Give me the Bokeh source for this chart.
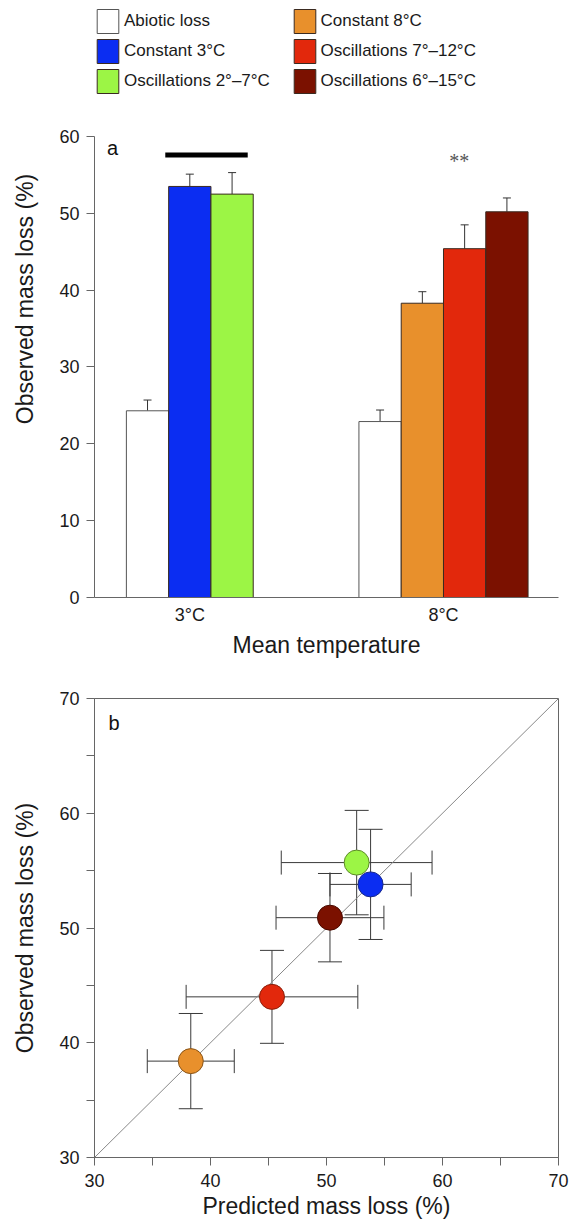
from bokeh.plotting import figure
from bokeh.layouts import column
from bokeh.models import (Range1d, FixedTicker, SingleIntervalTicker, Whisker, TeeHead,
                          ColumnDataSource, Legend, LegendItem, Label)
from bokeh.embed import file_html
from bokeh.resources import INLINE

FONT = "Liberation Sans"

# ---------------- data ----------------
temperatures = ["3°C", "8°C"]
series_names = ["Abiotic loss", "Constant 3°C", "Oscillations 2°–7°C",
                "Constant 8°C", "Oscillations 7°–12°C", "Oscillations 6°–15°C"]
series_fill = ["#FFFFFF", "#0B2DF2", "#9CF545", "#E8902C", "#E2280C", "#7B1100"]
series_edge = ["#666666", "#1A2A8A", "#5E8A2A", "#8A5518", "#8A1E0A", "#4A0A00"]

# panel a: observed mass loss (%) per mean temperature
group_series = [[0, 1, 2], [0, 3, 4, 5]]
mass_loss_3C = [24.3, 53.5, 52.5]
se_3C = [1.4, 1.6, 2.8]
mass_loss_8C = [22.9, 38.3, 45.4, 50.2]
se_8C = [1.5, 1.5, 3.1, 1.8]
significance = ["", "**"]
sig_bar_level = 57.6

# panel b: predicted vs observed (series index, in drawing order)
b_series = [2, 1, 5, 4, 3]
predicted = [52.6, 53.8, 50.3, 45.3, 38.3]
predicted_err = [6.5, 3.5, 4.65, 7.4, 3.75]
observed = [55.7, 53.8, 50.9, 44.0, 38.4]
observed_err = [4.55, 4.8, 3.85, 4.05, 4.15]

# ---------------- panel a ----------------
group_centers = [3, 9]
bar_w = 1.0

pa = figure(width=576, height=660, x_range=Range1d(0.746, 11.72), y_range=Range1d(0, 77.7),
            output_backend="svg", toolbar_location=None,
            min_border_left=94, min_border_right=13, min_border_top=0, min_border_bottom=63)
pa.outline_line_color = None
pa.grid.visible = False
pa.background_fill_color = "white"

renderers = {}
bars_by_series = {i: dict(x=[], top=[], up=[]) for i in range(len(series_names))}
groups_vals = [(mass_loss_3C, se_3C), (mass_loss_8C, se_8C)]
bar_positions = []
for g, (sidx, (vals, errs)) in enumerate(zip(group_series, groups_vals)):
    n = len(sidx)
    pos = []
    for k, (s, v, e) in enumerate(zip(sidx, vals, errs)):
        xb = group_centers[g] + (k - (n - 1) / 2) * bar_w
        pos.append(xb)
        bars_by_series[s]["x"].append(xb)
        bars_by_series[s]["top"].append(v)
        bars_by_series[s]["up"].append(v + e)
    bar_positions.append(pos)

for s in range(len(series_names)):
    src = ColumnDataSource(bars_by_series[s])
    r = pa.vbar(x="x", top="top", bottom=0, width=bar_w, source=src,
                fill_color=series_fill[s], line_color="#555555" if s == 0 else "#3a2a20",
                line_width=1)
    renderers[s] = r
    w = Whisker(base="x", lower="top", upper="up", source=src, dimension="height",
                line_color="#333333", line_width=1, level="underlay",
                upper_head=TeeHead(size=8, line_color="#333333", line_width=1),
                lower_head=None)
    pa.add_layout(w)

# significance bar over 3°C treatments, and stars over 8°C
pa.segment(x0=[bar_positions[0][1] - 0.58], x1=[bar_positions[0][2] + 0.37],
           y0=[sig_bar_level], y1=[sig_bar_level], line_color="black", line_width=5,
           line_cap="butt")
pa.add_layout(Label(x=group_centers[1] + 0.37, y=56.8, text=significance[1],
                    text_align="center", text_baseline="middle",
                    text_font="Liberation Serif", text_font_size="20px", text_color="#555555"))
pa.add_layout(Label(x=1.044, y=58.5, text="a", text_baseline="middle",
                    text_font=FONT, text_font_size="20px", text_color="#111111"))

ya = pa.yaxis[0]
ya.bounds = (0, 60)
ya.ticker = SingleIntervalTicker(interval=10, num_minor_ticks=0)
ya.axis_label = "Observed mass loss (%)"
xa = pa.xaxis[0]
xa.ticker = FixedTicker(ticks=group_centers)
xa.major_label_overrides = {c: t for c, t in zip(group_centers, temperatures)}
xa.axis_label = "Mean temperature"
xa.major_tick_out = 0
xa.major_tick_in = 0
xa.minor_tick_out = 0
xa.minor_tick_in = 0
xa.major_label_standoff = 7
xa.axis_label_standoff = 4
ya.major_tick_out = 8
ya.major_tick_in = 0
ya.minor_tick_out = 0
ya.major_label_standoff = 7
ya.axis_label_standoff = 18

for ax in (xa, ya):
    ax.axis_line_color = "#666666"
    ax.major_tick_line_color = "#666666"
    ax.major_label_text_font = FONT
    ax.major_label_text_font_size = "18px"
    ax.major_label_text_color = "#1a1a1a"
    ax.axis_label_text_font = FONT
    ax.axis_label_text_font_size = "23px"
    ax.axis_label_text_font_style = "normal"
    ax.axis_label_text_color = "#1a1a1a"

legend_common = dict(glyph_width=27, glyph_height=30, spacing=0, padding=0, margin=0,
                     label_standoff=3, label_text_font=FONT, label_text_font_size="17px",
                     label_text_color="#1a1a1a", border_line_color=None,
                     background_fill_alpha=0)
leg1 = Legend(items=[LegendItem(label=series_names[i], renderers=[renderers[i]]) for i in (0, 1, 2)],
              location=(0, 501), **legend_common)
leg2 = Legend(items=[LegendItem(label=series_names[i], renderers=[renderers[i]]) for i in (3, 4, 5)],
              location=(196.6, 501), **legend_common)
pa.add_layout(leg1)
pa.add_layout(leg2)

# ---------------- panel b ----------------
pb = figure(width=576, height=565, x_range=Range1d(30, 70), y_range=Range1d(30, 70),
            output_backend="svg", toolbar_location=None,
            min_border_left=94, min_border_right=18, min_border_top=38, min_border_bottom=68)
pb.grid.visible = False
pb.outline_line_color = "#666666"
pb.outline_line_width = 1

pb.line(x=[30, 70], y=[30, 70], line_color="#888888", line_width=1)

bsrc = ColumnDataSource(dict(
    x=predicted, y=observed,
    xl=[p - e for p, e in zip(predicted, predicted_err)],
    xu=[p + e for p, e in zip(predicted, predicted_err)],
    yl=[o - e for o, e in zip(observed, observed_err)],
    yu=[o + e for o, e in zip(observed, observed_err)],
    fill=[series_fill[s] for s in b_series],
    edge=[series_edge[s] for s in b_series],
))
pb.add_layout(Whisker(base="x", lower="yl", upper="yu", source=bsrc, dimension="height",
                      line_color="#3a3a3a", line_width=1, level="underlay",
                      upper_head=TeeHead(size=24, line_color="#3a3a3a", line_width=1),
                      lower_head=TeeHead(size=24, line_color="#3a3a3a", line_width=1)))
pb.add_layout(Whisker(base="y", lower="xl", upper="xu", source=bsrc, dimension="width",
                      line_color="#3a3a3a", line_width=1, level="underlay",
                      upper_head=TeeHead(size=24, line_color="#3a3a3a", line_width=1),
                      lower_head=TeeHead(size=24, line_color="#3a3a3a", line_width=1)))
pb.scatter(x="x", y="y", source=bsrc, size=25, fill_color="fill", line_color="edge",
           line_width=1)
pb.add_layout(Label(x=31.2, y=67.9, text="b", text_baseline="middle",
                    text_font=FONT, text_font_size="20px", text_color="#111111"))

xb = pb.xaxis[0]
yb = pb.yaxis[0]
xb.axis_label = "Predicted mass loss (%)"
yb.axis_label = "Observed mass loss (%)"
for ax in (xb, yb):
    ax.ticker = SingleIntervalTicker(interval=5, num_minor_ticks=0)
    ax.major_label_overrides = {35: "", 45: "", 55: "", 65: ""}
    ax.major_tick_out = 8
    ax.major_tick_in = 0
    ax.minor_tick_out = 0
    ax.axis_line_color = "#666666"
    ax.major_tick_line_color = "#666666"
    ax.major_label_text_font = FONT
    ax.major_label_text_font_size = "18px"
    ax.major_label_text_color = "#1a1a1a"
    ax.axis_label_text_font = FONT
    ax.axis_label_text_font_size = "23px"
    ax.axis_label_text_font_style = "normal"
    ax.axis_label_text_color = "#1a1a1a"
xb.major_label_standoff = 8
xb.axis_label_standoff = 3
yb.major_label_standoff = 7
yb.axis_label_standoff = 18

layout = column(pa, pb, spacing=0)
open("out.html", "w").write(file_html(layout, INLINE))
